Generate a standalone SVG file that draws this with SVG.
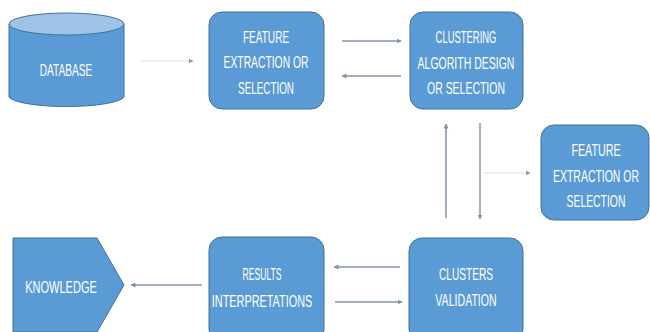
<svg xmlns="http://www.w3.org/2000/svg" width="650" height="332" viewBox="0 0 650 332">
<defs>
<style>
.box{fill:#5b9bd5;stroke:#41719c;stroke-width:1}
.top{fill:#9dc3e6;stroke:#41719c;stroke-width:1}
.t{font-family:"Liberation Sans",Arial,sans-serif;font-size:16px;fill:#ffffff;text-anchor:middle}
.a{stroke:#8294ab;stroke-width:1.5;fill:none;marker-end:url(#ah)}
.f{stroke:#e6ecf1;stroke-width:1.5;fill:none;marker-end:url(#ahf)}
</style>
<marker id="ah" viewBox="0 0 10 10" refX="9" refY="5" markerWidth="5" markerHeight="5" orient="auto" markerUnits="userSpaceOnUse">
<path d="M0,0 L10,5 L0,10 z" fill="#8294ab"/>
</marker>
<marker id="ahf" viewBox="0 0 10 10" refX="9" refY="5" markerWidth="5" markerHeight="6" orient="auto" markerUnits="userSpaceOnUse">
<path d="M0,0 L10,5 L0,10 z" fill="#8c9aab"/>
</marker>
</defs>
<rect width="650" height="332" fill="#ffffff"/>
<g id="connectors">
<line class="f" x1="140" y1="61" x2="193" y2="61"/>
<line class="a" x1="342" y1="41" x2="401" y2="41"/>
<line class="a" x1="401" y1="76" x2="342" y2="76"/>
<line class="a" x1="446" y1="218" x2="446" y2="124"/>
<line class="a" x1="480" y1="123" x2="480" y2="219"/>
<line class="f" x1="483" y1="173" x2="530" y2="173"/>
<line class="a" x1="400" y1="267" x2="334" y2="267"/>
<line class="a" x1="335" y1="302" x2="402" y2="302"/>
<line class="a" x1="202" y1="285" x2="131" y2="285"/>
</g>
<g id="database">
<path class="box" d="M9,24 L9,97 A58,11 0 0 0 124,97 L124,24 Z"/>
<ellipse class="top" cx="66.5" cy="24" rx="57.5" ry="11"/>
<text class="t" transform="translate(66,76) scale(0.632,1)">DATABASE</text>
</g>
<g id="feature1">
<rect class="box" x="209" y="12" width="115" height="97" rx="13"/>
<text class="t" transform="translate(266,43) scale(0.629,1)">FEATURE</text>
<text class="t" transform="translate(266,68) scale(0.646,1)">EXTRACTION OR</text>
<text class="t" transform="translate(266,94) scale(0.617,1)">SELECTION</text>
</g>
<g id="clustering">
<rect class="box" x="410" y="12" width="113" height="97" rx="13"/>
<text class="t" transform="translate(466,43) scale(0.59,1)">CLUSTERING</text>
<text class="t" transform="translate(466,69) scale(0.657,1)">ALGORITH DESIGN</text>
<text class="t" transform="translate(466,94) scale(0.655,1)">OR SELECTION</text>
</g>
<g id="feature2">
<rect class="box" x="541" y="125" width="108" height="95" rx="13"/>
<text class="t" transform="translate(596,156) scale(0.67,1)">FEATURE</text>
<text class="t" transform="translate(596,182) scale(0.654,1)">EXTRACTION OR</text>
<text class="t" transform="translate(596,207) scale(0.65,1)">SELECTION</text>
</g>
<g id="validation">
<rect class="box" x="409" y="238" width="114" height="104" rx="13"/>
<text class="t" transform="translate(466,280) scale(0.633,1)">CLUSTERS</text>
<text class="t" transform="translate(466,306) scale(0.662,1)">VALIDATION</text>
</g>
<g id="results">
<rect class="box" x="209" y="237" width="115" height="105" rx="13"/>
<text class="t" transform="translate(262,280) scale(0.54,1)">RESULTS</text>
<text class="t" transform="translate(262,307) scale(0.68,1)">INTERPRETATIONS</text>
</g>
<g id="knowledge">
<path class="box" d="M13,238 L97,238 L124,285 L97,332 L13,332 Z"/>
<text class="t" transform="translate(61,293) scale(0.69,1)">KNOWLEDGE</text>
</g>
</svg>
